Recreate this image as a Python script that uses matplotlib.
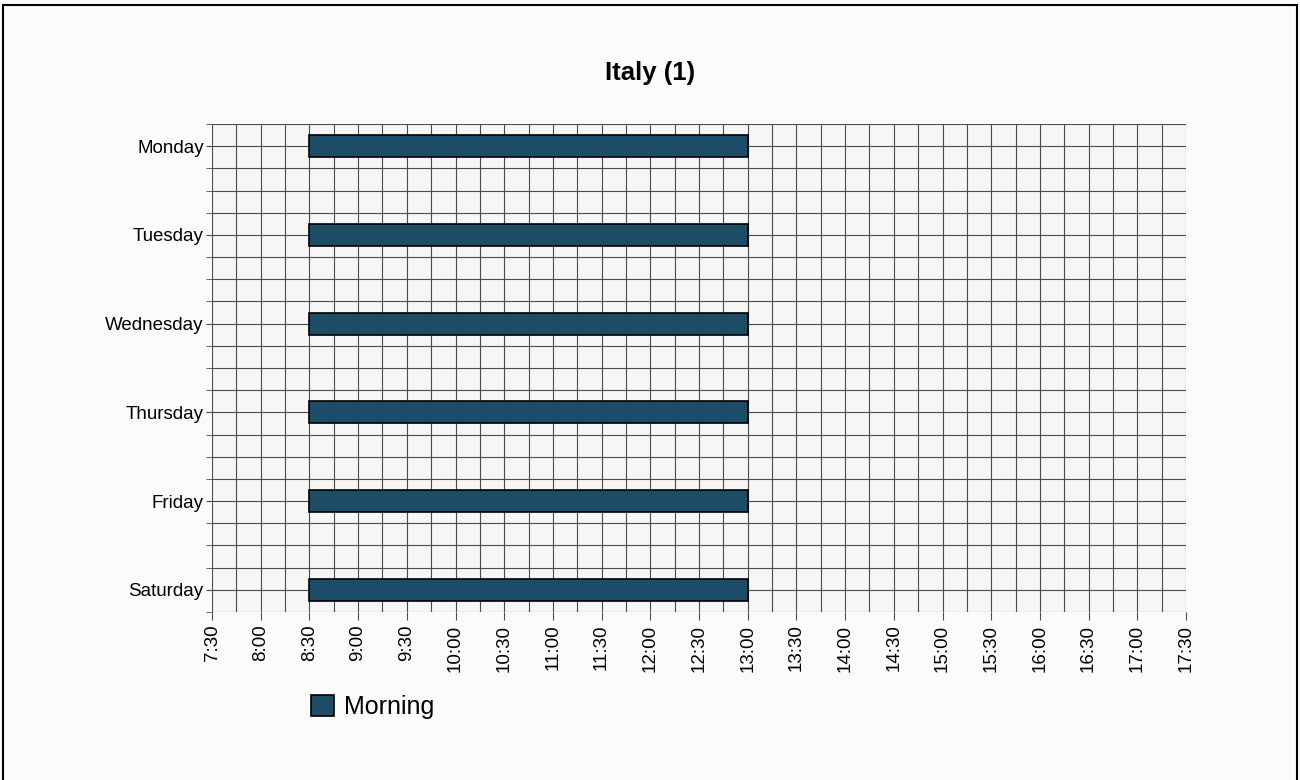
import matplotlib.pyplot as plt
import matplotlib.patches as mpatches
from matplotlib.ticker import MultipleLocator, FixedLocator

plt.rcParams['font.family'] = ['Liberation Sans', 'DejaVu Sans']

# —— data —— #
days = ["Monday", "Tuesday", "Wednesday", "Thursday", "Friday", "Saturday"]
start_hours = [8.5, 8.5, 8.5, 8.5, 8.5, 8.5]
end_hours = [13.0, 13.0, 13.0, 13.0, 13.0, 13.0]
tick_hours = [7.5 + 0.5 * i for i in range(21)]
tick_labels = [f"{int(h)}:{int(round((h % 1) * 60)):02d}" for h in tick_hours]
series_name = "Morning"

bar_color = "#1d4d66"
grid_color = "#4a4a4a"

fig = plt.figure(figsize=(13, 7.8), dpi=100, facecolor="#fbfbfb")
ax = fig.add_axes([212/1300, 1-612/780, 974/1300, 488/780])
ax.set_facecolor("#f6f6f6")

ypos = list(range(len(days)))
widths = [e - s for s, e in zip(start_hours, end_hours)]
ax.barh(ypos, widths, left=start_hours, height=0.25, color=bar_color,
        edgecolor="black", linewidth=1.2, zorder=3, label=series_name)

ax.set_xlim(7.5, 17.5)
ax.set_ylim(5.25, -0.25)

ax.xaxis.set_major_locator(FixedLocator(tick_hours))
ax.set_xticklabels(tick_labels, rotation=90, fontsize=13.5)
ax.xaxis.set_minor_locator(MultipleLocator(0.25))
ax.set_yticks(ypos)
ax.set_yticklabels(days, fontsize=13.5)
ax.yaxis.set_minor_locator(MultipleLocator(0.25))

ax.grid(True, which="both", color=grid_color, linewidth=0.8, zorder=0)
ax.set_axisbelow(True)
ax.tick_params(axis="x", which="major", length=6, color=grid_color, pad=3)
ax.tick_params(axis="x", which="minor", length=0)
ax.tick_params(axis="y", which="both", length=4, color=grid_color, pad=2)
for sp in ax.spines.values():
    sp.set_visible(False)

fig.text(650/1300, 1-73/780, "Italy (1)", ha="center", va="center",
         fontsize=18.5, fontweight="bold")

handle = mpatches.Patch(facecolor=bar_color, edgecolor="black", linewidth=1.2)
fig.legend([handle], [series_name], loc="center left",
           bbox_to_anchor=(288/1300, 1-707/780), frameon=False,
           fontsize=18, handlelength=0.95, handleheight=0.95, handletextpad=0.4)

# scanned page frame
fig.patches.append(mpatches.Rectangle((3/1300, -0.01), 1294/1300, 1-5/780 + 0.01,
                                      transform=fig.transFigure, fill=False,
                                      edgecolor="black", linewidth=1.5))

fig.savefig("out.png", dpi=100, facecolor=fig.get_facecolor())
